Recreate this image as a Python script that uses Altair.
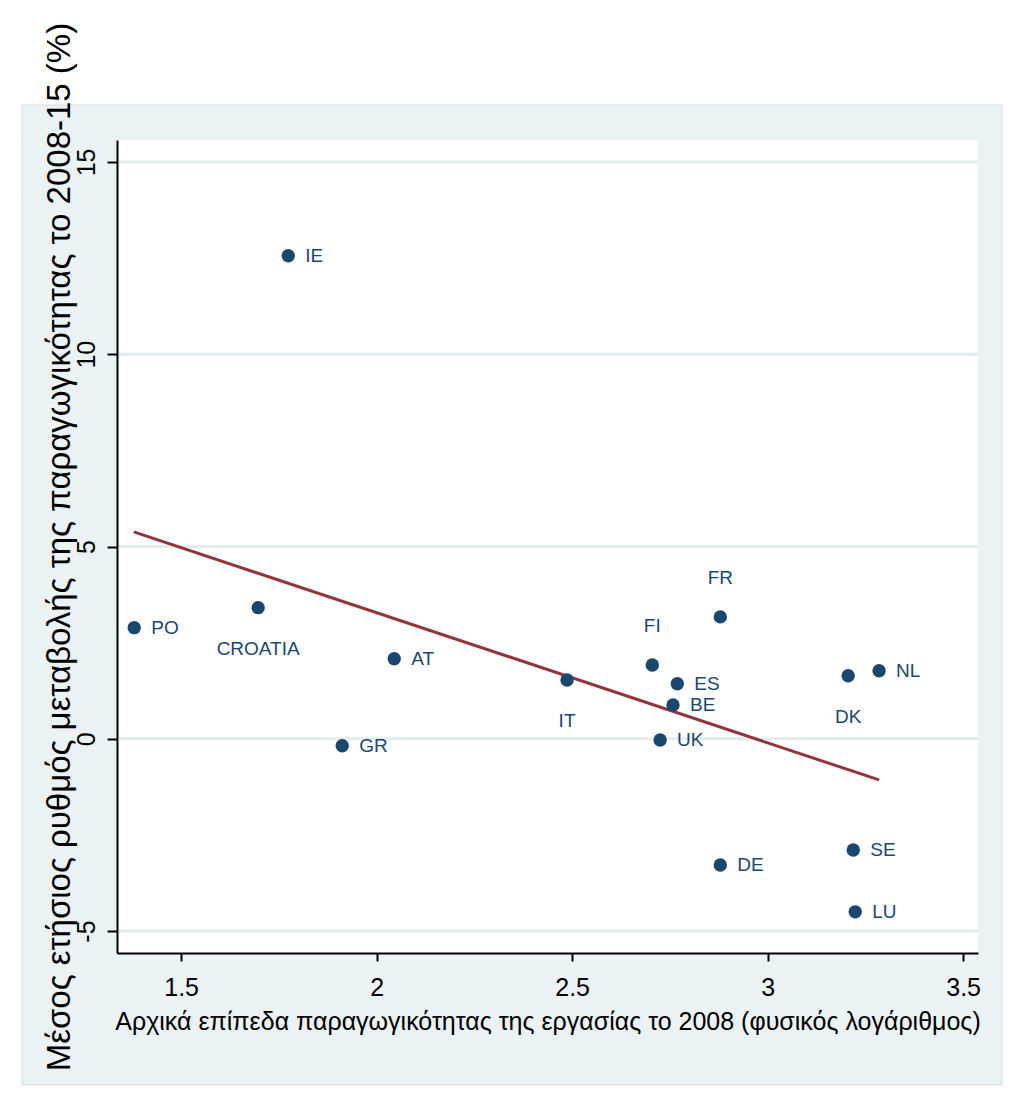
import altair as alt
import pandas as pd

# Data
countries = ["IE", "PO", "CROATIA", "AT", "GR", "IT", "FI", "FR", "ES", "BE",
             "UK", "DK", "NL", "SE", "LU", "DE"]
prod_2008 = [1.774, 1.380, 1.697, 2.045, 1.912, 2.487, 2.705, 2.879, 2.769, 2.758,
             2.725, 3.206, 3.285, 3.219, 3.224, 2.879]
growth = [12.56, 2.89, 3.41, 2.08, -0.18, 1.53, 1.92, 3.17, 1.43, 0.88,
          -0.03, 1.64, 1.77, -2.89, -4.50, -3.28]
# Stata-style marker-label clock positions (3 = right, 12 = above, 6 = below)
label_pos = [3, 3, 6, 3, 3, 6, 12, 12, 3, 3, 3, 6, 3, 3, 3, 3]

fit_x = [1.379, 3.285]
fit_y = [5.38, -1.07]

x_ticks = [1.5, 2, 2.5, 3, 3.5]
y_ticks = [-5, 0, 5, 10, 15]

x_title = "Αρχικά επίπεδα παραγωγικότητας της εργασίας το 2008 (φυσικός λογάριθμος)"
y_title = "Μέσος ετήσιος ρυθμός μεταβολής της παραγωγικότητας το 2008-15 (%)"

df = pd.DataFrame({"country": countries, "x": prod_2008, "y": growth, "pos": label_pos})
fit = pd.DataFrame({"x": fit_x, "y": fit_y})
grid = pd.DataFrame({"y": y_ticks})
one = pd.DataFrame({"a": [0]})

W, H = 861, 813
FONT = "Liberation Sans"
NAVY = "#1a476f"
MAROON = "#90353b"
BG = "#EAF2F3"

xs = alt.Scale(domain=[1.336, 3.538], nice=False, zero=False)
ys = alt.Scale(domain=[-5.57, 15.57], nice=False, zero=False)

outer = alt.Chart(one).mark_rect(color=BG, stroke="#D5DDE0", strokeWidth=1).encode(
    x=alt.value(-95), x2=alt.value(885), y=alt.value(-35), y2=alt.value(945)
)
inner = alt.Chart(one).mark_rect(color="white").encode(
    x=alt.value(0), x2=alt.value(W), y=alt.value(0), y2=alt.value(H)
)
gridlines = alt.Chart(grid).mark_rule(color="#E3ECEE", strokeWidth=3).encode(
    y=alt.Y("y:Q", scale=ys), x=alt.value(0), x2=alt.value(W)
)
line = alt.Chart(fit).mark_line(color=MAROON, strokeWidth=3).encode(
    x=alt.X("x:Q", scale=xs), y=alt.Y("y:Q", scale=ys)
)
points = alt.Chart(df).mark_point(filled=True, shape="circle", size=180,
                                  color=NAVY, opacity=1).encode(
    x=alt.X("x:Q", scale=xs, axis=alt.Axis(
        values=x_ticks, format="~g", title=x_title, grid=False, zindex=1,
        domainColor="black", domainWidth=2, tickColor="black", tickWidth=2,
        tickSize=8, labelFontSize=25, labelPadding=14, labelColor="black",
        labelFont=FONT, titleFont=FONT, titleFontSize=25, titleFontWeight="normal",
        titleColor="black", titleY=68, titleBaseline="middle")),
    y=alt.Y("y:Q", scale=ys, axis=alt.Axis(
        values=y_ticks, title=y_title, grid=False, zindex=1,
        labelExpr="toString(datum.value)",
        domainColor="black", domainWidth=2, tickColor="black", tickWidth=2,
        tickSize=10, labelFontSize=25, labelAngle=270, labelAlign="center",
        labelBaseline="bottom", labelPadding=8, labelColor="black", labelFont=FONT,
        titleFont=FONT, titleFontSize=33, titleFontWeight="normal", titleColor="black",
        titleAngle=270, titleX=-58, titleY=H / 2, titleAlign="center",
        titleBaseline="middle")),
)

def labels(pos, **kw):
    return alt.Chart(df).transform_filter(alt.datum.pos == pos).mark_text(
        font=FONT, fontSize=19, color=NAVY, **kw
    ).encode(x=alt.X("x:Q", scale=xs), y=alt.Y("y:Q", scale=ys), text="country:N")

lab_right = labels(3, align="left", baseline="middle", dx=17)
lab_top = labels(12, align="center", baseline="middle", dy=-39)
lab_bot = labels(6, align="center", baseline="middle", dy=41)

chart = alt.layer(outer, inner, gridlines, line, points, lab_right, lab_top, lab_bot).properties(
    width=W, height=H,
    autosize=alt.AutoSizeParams(type="none"),
    padding={"left": 109, "top": 132, "right": 30, "bottom": 140},
).configure_view(stroke=None)

chart.save("out.html", embed_options={"renderer": "svg", "actions": False})
